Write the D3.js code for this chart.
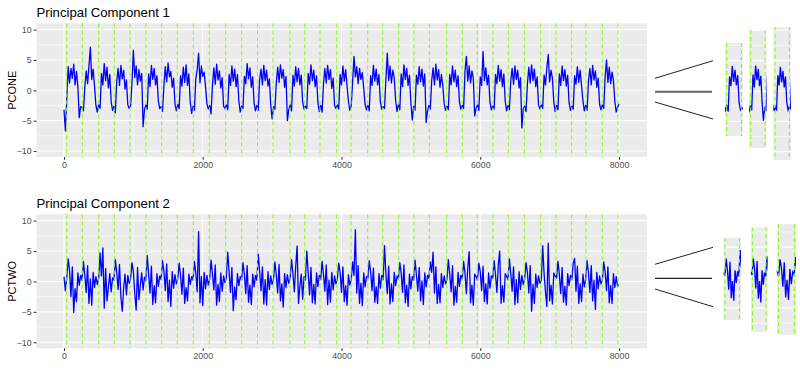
<!DOCTYPE html>
<html><head><meta charset="utf-8">
<script src="https://cdn.jsdelivr.net/npm/d3@7"></script>
<style>body{margin:0;background:#fff} svg{display:block} text{font-family:"Liberation Sans",Arial,sans-serif}</style>
</head><body><svg id="c" width="800" height="378"></svg>
<script>
// ---- data (time index step between samples) ----
const X_STEP = 20;
const pc1 = [
-3.2,-6.7,
-1.5,3.9,1.2,3.6,2.0,4.3,0.9,3.1,0.6,-4.5,-2.7,
-2.8,-3.4,0.5,3.2,1.1,4.0,7.1,1.8,3.5,0.7,-2.5,-3.6,
-2.4,-3.0,2.8,0.9,4.4,1.6,3.8,0.4,2.6,-1.9,-3.3,
-2.6,-3.7,1.5,3.6,0.8,4.1,1.9,3.3,0.2,1.7,-2.4,-3.0,
-2.5,1.2,6.6,2.1,4.0,0.9,3.4,1.5,2.8,-6.0,-3.2,
-2.4,-3.1,2.7,0.6,4.1,1.8,3.6,0.9,2.4,-1.8,-3.0,
-2.7,-3.5,0.8,3.9,1.4,4.5,2.2,3.1,0.5,2.0,-2.3,-3.4,
-2.3,-3.0,2.4,0.7,3.8,1.3,4.2,0.8,2.7,-2.0,-3.8,
-2.6,-3.3,1.9,3.4,6.1,1.2,4.0,2.3,3.0,0.6,-2.2,-3.1,
-2.5,-3.9,0.9,3.7,1.0,4.3,1.7,3.2,0.4,2.1,-2.6,-3.0,
-2.4,-3.2,2.6,0.8,4.0,1.5,3.5,0.6,2.6,-1.7,-3.6,
-2.6,-3.0,2.3,1.1,4.4,1.9,3.7,0.5,2.2,-2.1,-3.4,
-2.5,-3.3,1.8,3.5,0.9,4.1,1.6,3.3,0.7,1.9,-2.4,-4.7,
-2.7,-3.1,1.2,3.8,1.3,4.2,2.0,3.4,0.5,2.3,-5.0,-3.2,
-2.4,-3.4,2.5,0.7,3.9,1.4,3.6,0.9,2.5,-1.9,-3.1,
-2.6,-3.0,2.8,1.0,4.2,1.6,3.3,0.6,2.4,-2.0,-3.5,
-2.5,-3.6,1.0,3.6,1.2,4.1,1.8,3.4,0.3,2.0,-2.5,-3.0,
-2.4,-3.1,2.6,0.9,4.0,1.5,3.4,0.7,-1.8,-3.3,
-2.6,1.4,5.6,2.2,3.9,1.1,3.6,1.8,2.9,0.4,-2.3,-3.2,
-2.5,-3.4,2.4,0.8,4.1,1.5,3.5,0.9,2.6,-1.9,-3.1,
-2.7,-3.0,1.8,6.1,1.6,4.0,1.2,3.3,2.1,-1.6,-3.5,
-2.4,-3.2,2.7,0.6,4.2,1.8,3.6,0.8,2.5,-2.0,-4.9,
-2.6,-3.3,2.5,1.0,3.9,1.4,3.5,0.7,2.7,-5.3,-3.4,
-2.5,-3.1,1.6,3.7,0.9,4.3,1.7,3.4,0.5,2.6,0.8,-2.2,-3.3,
-2.6,-3.2,2.6,0.9,4.0,1.4,3.3,0.6,2.4,-1.9,-3.1,
-2.5,-3.0,3.1,5.6,1.5,4.0,1.2,3.2,2.0,-4.2,-3.0,
-2.4,-3.3,2.2,0.8,6.4,1.6,3.7,0.9,2.5,-2.0,-3.2,
-2.6,-3.1,2.6,1.1,4.1,1.5,3.4,0.6,2.7,-1.8,-3.4,
-2.5,-3.2,1.7,3.6,1.0,4.0,1.8,3.3,0.4,2.1,-6.2,-3.0,
-2.6,-3.5,1.1,3.8,1.2,4.2,1.6,3.5,0.6,2.2,-2.4,-3.1,
-2.4,-3.0,2.5,0.9,3.7,5.9,1.4,3.3,2.0,-1.9,-3.5,
-2.5,-3.2,2.7,0.8,4.0,1.6,3.4,0.7,2.5,-2.0,-3.3,
-2.6,-3.1,2.4,1.0,3.9,1.3,3.3,0.8,-1.7,-3.4,
-2.5,-3.3,1.5,3.6,0.9,4.1,1.7,3.2,0.5,2.0,-2.3,-3.2,
-2.4,-3.0,2.2,5.0,1.3,3.8,1.1,3.0,1.6,-1.8,-3.6,
-2.8,-2.2
];
const pc2 = [
0.8,-1.5,
0.6,3.7,1.8,-2.5,2.4,-5.1,-1.2,-3.3,1.4,-0.6,1.0,
0.2,3.3,1.1,-1.8,2.6,-3.6,0.4,-3.9,1.5,-1.0,0.8,-0.5,
0.5,4.7,0.9,5.5,-4.4,2.1,-3.2,-0.9,1.3,-1.7,0.6,
0.2,3.6,1.5,-1.3,2.8,-2.6,-4.9,-1.0,1.2,-2.2,1.0,-0.3,
0.4,3.1,1.6,-2.0,-4.7,2.3,-3.0,-0.6,1.4,-1.4,0.7,
0.1,4.3,1.2,-1.9,2.5,-3.8,-0.7,-3.5,1.3,-0.8,0.9,
0.3,3.4,1.7,-1.5,2.9,-3.3,0.2,-4.1,1.6,-1.1,1.1,-0.4,
0.5,3.0,1.0,-2.1,2.2,-3.6,-1.0,-3.2,1.2,-0.5,0.8,
0.2,3.3,1.4,-1.7,8.2,-3.5,0.8,-4.0,1.5,-1.2,1.0,-0.6,
0.4,3.5,1.3,-1.4,2.7,-3.9,-0.5,-3.3,1.4,-1.6,0.9,-0.2,
0.6,4.8,1.5,-1.8,2.3,-4.8,-0.9,-3.0,1.3,-0.7,0.8,
0.3,3.1,1.2,-2.0,2.6,-3.4,-0.6,-3.8,1.2,-0.9,1.0,
0.2,4.5,1.6,-1.5,2.4,-3.7,0.3,-3.9,1.6,-1.3,0.9,-0.5,
0.4,3.2,1.1,-1.9,2.8,-3.2,-0.4,-4.2,1.3,-1.0,1.1,-0.3,
0.5,3.6,1.3,-1.7,2.5,5.8,-3.6,-0.8,1.2,-2.9,0.8,
0.2,5.0,1.4,-2.2,2.3,-3.5,-0.5,-3.7,1.4,-0.8,1.0,
0.3,3.3,1.2,-1.6,2.7,-3.8,0.2,-3.4,1.5,-1.4,0.9,-0.4,
0.4,3.0,1.5,-1.8,2.4,-3.3,-0.7,-3.9,1.1,-0.6,
0.2,3.2,1.0,8.5,-1.9,2.6,-3.6,-0.3,-4.0,1.4,-0.9,0.8,
0.5,3.4,1.6,-1.5,2.2,-3.4,-0.9,-3.6,1.3,-1.1,1.0,
0.3,5.9,1.2,-2.0,2.5,-3.7,-0.4,-3.3,1.5,-0.7,0.9,
0.4,3.1,1.4,-1.8,2.7,-3.5,-0.6,-4.1,1.2,-1.2,0.8,
0.2,3.5,1.1,-1.6,2.3,-3.2,0.1,-3.8,1.4,-0.9,1.0,
0.5,3.2,1.5,4.8,-1.9,2.4,-3.6,-0.5,-3.5,1.3,-1.0,0.9,-0.4,
0.3,3.6,1.2,-1.7,2.6,-3.9,-0.8,-3.4,1.5,-0.8,1.0,
0.4,3.3,1.4,-2.0,2.2,4.9,-3.5,-0.6,-3.9,1.2,0.8,
0.2,3.0,1.6,-1.5,2.5,-3.3,-0.4,-3.7,1.4,-1.1,0.9,
0.5,3.4,1.1,-1.8,2.7,5.0,-3.6,-0.7,-3.4,1.3,0.8,
0.3,3.7,1.3,-1.6,2.4,-3.8,0.3,-3.5,1.6,-1.3,1.0,-0.5,
0.4,3.1,1.5,-1.9,2.6,-4.9,-0.5,-3.6,1.2,-1.0,0.9,-0.3,
0.2,5.9,1.3,-1.7,-4.1,6.3,-3.2,-0.6,-3.7,1.4,0.9,
0.5,3.3,1.2,-2.0,2.3,-3.4,-0.8,-3.9,1.3,-0.7,1.0,
0.3,3.0,3.8,-1.6,2.5,-3.6,-0.4,-3.3,1.2,-0.9,
0.4,3.4,1.4,-1.8,2.6,-3.2,0.2,-4.6,1.5,-1.2,0.9,-0.4,
0.2,3.2,1.6,-1.5,2.4,-3.5,-0.7,-3.6,1.3,-1.0,0.8,
-0.8,-0.5
];
// cycle boundaries (green dashed lines)
const cycleLines = [39,264,500,725,951,1182,1408,1633,1864,2094,2331,2561,2789,3013,3258,3470,3690,3931,4137,4378,4594,4825,5045,5266,5516,5741,5957,6184,6404,6635,6871,7092,7318,7524,7759,7985];
const xTicks = [0,2000,4000,6000,8000];
const xMinorTicks = [1000,3000,5000,7000];
const yTicks = [-10,-5,0,5,10];
const yMinorTicks = [-7.5,-2.5,2.5,7.5];
const titles = ["Principal Component 1","Principal Component 2"];
const yLabels = ["PCONE","PCTWO"];
const insetCyclesTop = [19,21,24];
const insetCyclesBottom = [11,21,26];

// ---- layout ----
const svg = d3.select('#c');
const PL = 36.5, PR = 647;
const x = d3.scaleLinear().domain([0,8000]).range([64,619]);
const FONT = '"Liberation Sans",Arial,sans-serif';
const LW = 1.3;

const panels = [
  {title:titles[0], ylab:yLabels[0], data:pc1, top:23.3, bottom:157,
   y:d3.scaleLinear().domain([-10,10]).range([151,29.6]), titleY:16.6,
   cycles:insetCyclesTop, zero:91,
   insets:[[725,743,43,136],[749,766.7,30,148],[773.3,791,26.7,160]],
   conn:[[78.3,60.7,1,'#222'],[91.7,91.7,2,'#666'],[102,119,1,'#222']]},
  {title:titles[1], ylab:yLabels[1], data:pc2, top:214.3, bottom:348.3,
   y:d3.scaleLinear().domain([-10,10]).range([342.3,220.6]), titleY:207.8,
   cycles:insetCyclesBottom, zero:277.5,
   insets:[[723.3,741,237.7,320],[750.7,767.7,227.3,332],[776.7,796,224,335]],
   conn:[[264.3,247.3,1,'#222'],[278.3,278.3,1.3,'#222'],[289,306.7,1,'#222']]}
];

const defs = svg.append('defs');

panels.forEach((p, pi) => {
  const g = svg.append('g');
  g.append('rect').attr('x',PL).attr('y',p.top).attr('width',PR-PL).attr('height',p.bottom-p.top).attr('fill','#ebebeb');
  g.selectAll(null).data(yMinorTicks).join('line')
    .attr('x1',PL).attr('x2',PR).attr('y1',d=>p.y(d)).attr('y2',d=>p.y(d))
    .attr('stroke','#fff').attr('stroke-width',0.55);
  g.selectAll(null).data(xMinorTicks).join('line')
    .attr('x1',d=>x(d)).attr('x2',d=>x(d)).attr('y1',p.top).attr('y2',p.bottom)
    .attr('stroke','#fff').attr('stroke-width',0.55);
  g.selectAll(null).data(yTicks).join('line')
    .attr('x1',PL).attr('x2',PR).attr('y1',d=>p.y(d)).attr('y2',d=>p.y(d))
    .attr('stroke','#fff').attr('stroke-width',1.1);
  g.selectAll(null).data(xTicks).join('line')
    .attr('x1',d=>x(d)).attr('x2',d=>x(d)).attr('y1',p.top).attr('y2',p.bottom)
    .attr('stroke','#fff').attr('stroke-width',1.1);

  const line = d3.line().x((d,i)=>x(i*X_STEP)).y(d=>p.y(d));
  g.append('path').datum(p.data).attr('d',line).attr('fill','none')
    .attr('stroke','#0000ff').attr('stroke-width',LW).attr('stroke-linejoin','round');

  g.selectAll(null).data(cycleLines).join('line')
    .attr('x1',d=>x(d)).attr('x2',d=>x(d)).attr('y1',p.top).attr('y2',p.bottom)
    .attr('stroke','#7fff00').attr('stroke-width',1).attr('stroke-dasharray','4,3');

  // axes
  const ya = g.append('g').attr('transform',`translate(${PL},0)`)
    .call(d3.axisLeft(p.y).tickValues(yTicks).tickSize(2.75).tickPadding(2.2).tickFormat(d3.format('d')));
  ya.select('.domain').remove();
  ya.selectAll('.tick line').attr('stroke','#333').attr('stroke-width',1.07);
  ya.selectAll('.tick text').attr('fill','#4d4d4d').style('font-size','8.8px').style('font-family',FONT);
  const xa = g.append('g').attr('transform',`translate(0,${p.bottom})`)
    .call(d3.axisBottom(x).tickValues(xTicks).tickSize(2.75).tickPadding(2.2).tickFormat(d3.format('d')));
  xa.select('.domain').remove();
  xa.selectAll('.tick line').attr('stroke','#333').attr('stroke-width',1.07);
  xa.selectAll('.tick text').attr('fill','#4d4d4d').style('font-size','8.8px').style('font-family',FONT);

  g.append('text').attr('x',PL).attr('y',p.titleY).text(p.title)
    .style('font-size','13.2px').attr('fill','#000');
  const cy = (p.top+p.bottom)/2;
  g.append('text').attr('transform',`translate(16,${cy}) rotate(-90)`).attr('text-anchor','middle')
    .text(p.ylab).style('font-size','11px').attr('fill','#000');

  // connectors
  p.conn.forEach(c => {
    g.append('line').attr('x1',655).attr('x2',c[0]===c[1]?712:713).attr('y1',c[0]).attr('y2',c[1])
      .attr('stroke',c[3]).attr('stroke-width',c[2]);
  });

  // insets
  p.insets.forEach((r, k) => {
    const [x0,x1,y0,y1] = r;
    const ci = p.cycles[k];
    const id = `clip${pi}_${k}`;
    defs.append('clipPath').attr('id',id).append('rect').attr('x',x0).attr('y',y0).attr('width',x1-x0).attr('height',y1-y0);
    const ig = g.append('g').attr('clip-path',`url(#${id})`);
    const xs = d3.scaleLinear().domain([cycleLines[ci],cycleLines[ci+1]]).range([x0+1.7,x1-1.6]);
    const ys = d3.scaleLinear().domain([-10,10]).range([p.zero+60.8,p.zero-60.8]);
    ig.append('rect').attr('x',x0).attr('y',y0).attr('width',x1-x0).attr('height',y1-y0).attr('fill','#ebebeb');
    ig.selectAll(null).data(yMinorTicks).join('line').attr('x1',x0).attr('x2',x1)
      .attr('y1',d=>ys(d)).attr('y2',d=>ys(d)).attr('stroke','#fff').attr('stroke-width',0.55);
    ig.selectAll(null).data(yTicks).join('line').attr('x1',x0).attr('x2',x1)
      .attr('y1',d=>ys(d)).attr('y2',d=>ys(d)).attr('stroke','#fff').attr('stroke-width',1.1);
    const pts = p.data.map((v,i)=>[i*X_STEP,v]).filter(d=>d[0]>=cycleLines[ci]-40 && d[0]<=cycleLines[ci+1]+40);
    ig.append('path').datum(pts).attr('d',d3.line().x(d=>xs(d[0])).y(d=>ys(d[1])))
      .attr('fill','none').attr('stroke','#0000ff').attr('stroke-width',LW);
    ig.selectAll(null).data([cycleLines[ci],cycleLines[ci+1]]).join('line')
      .attr('x1',d=>xs(d)).attr('x2',d=>xs(d)).attr('y1',y0).attr('y2',y1)
      .attr('stroke','#7fff00').attr('stroke-width',1).attr('stroke-dasharray','4,3');
  });
});
</script></body></html>
